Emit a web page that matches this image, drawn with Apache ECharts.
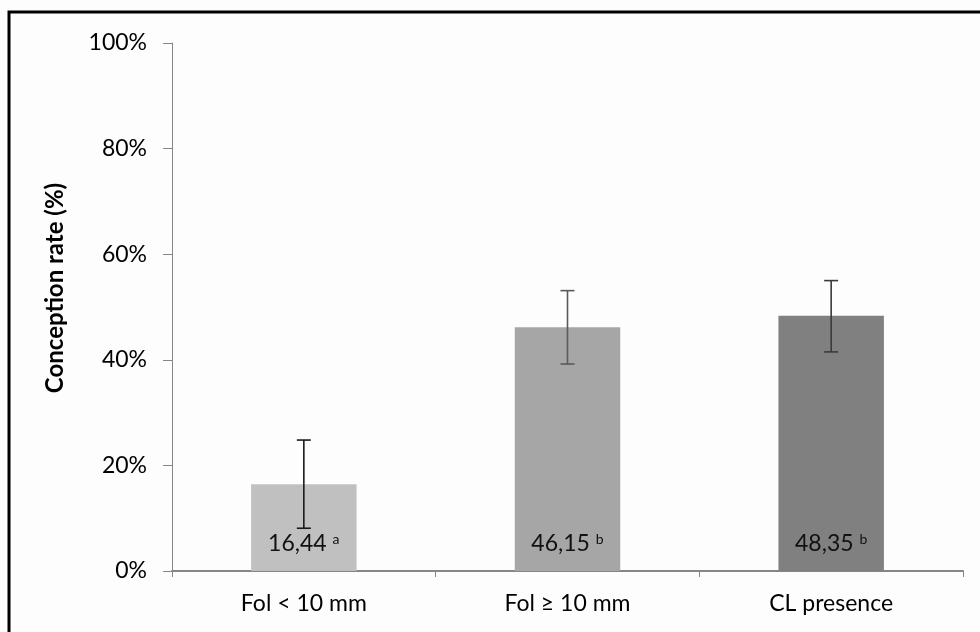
<!DOCTYPE html>
<html>
<head>
<meta charset="utf-8">
<script src="https://cdn.jsdelivr.net/npm/echarts@6/dist/echarts.min.js"></script>
<style>
  html, body { margin: 0; padding: 0; background: #fff; }
  #chart { width: 980px; height: 632px; }
</style>
</head>
<body>
<div id="chart"></div>
<script>
// data
var categories = ['Fol < 10 mm', 'Fol \u2265 10 mm', 'CL presence'];
var rates = [16.44, 46.15, 48.35];
var errLow = [8.1, 39.2, 41.5];
var errHigh = [24.8, 53.1, 55.0];
var letters = ['a', 'b', 'b'];
var yTicks = [0, 20, 40, 60, 80, 100];

var barColors = ['#c0c0c0', '#a6a6a6', '#808080'];
var errColors = ['#1a1a1a', '#5a5a5a', '#3a3a3a'];
var font = 'Lato, "Liberation Sans", sans-serif';

var chart = echarts.init(document.getElementById('chart'));

var errData = categories.map(function (c, i) {
  return [i, errLow[i], errHigh[i]];
});

chart.setOption({
  animation: false,
  backgroundColor: '#fdfdfd',
  grid: { left: 172, right: 17, top: 43, bottom: 61 },
  graphic: [
    {
      type: 'rect',
      shape: { x: 9, y: 12, width: 1000, height: 700 },
      style: { fill: 'none', stroke: '#000', lineWidth: 3 }
    },
    {
      type: 'text',
      x: 55, y: 288,
      rotation: Math.PI / 2,
      style: {
        text: 'Conception rate (%)',
        font: 'bold 24px ' + font,
        fill: '#000',
        align: 'center',
        verticalAlign: 'middle'
      }
    }
  ],
  xAxis: {
    type: 'category',
    data: categories,
    axisLine: { lineStyle: { color: '#868686', width: 2 } },
    axisTick: { show: true, length: 6, lineStyle: { color: '#868686' } },
    axisLabel: { color: '#000', fontSize: 23, fontFamily: font, margin: 21 }
  },
  yAxis: {
    type: 'value',
    min: 0,
    max: yTicks[yTicks.length - 1],
    interval: 20,
    splitLine: { show: false },
    axisLine: { show: true, lineStyle: { color: '#868686' } },
    axisTick: { show: true, length: 9, lineStyle: { color: '#868686' } },
    axisLabel: {
      color: '#000', fontSize: 23, fontFamily: font, margin: 25,
      formatter: '{value}%'
    }
  },
  series: [
    {
      type: 'bar',
      barWidth: '40%',
      data: rates.map(function (v, i) {
        return { value: v, itemStyle: { color: barColors[i] } };
      }),
      label: {
        show: true,
        position: 'insideBottom',
        distance: 15,
        formatter: function (p) {
          return String(p.value).replace('.', ',') + ' {sup|' + letters[p.dataIndex] + '}';
        },
        color: '#111',
        fontSize: 23,
        fontFamily: font,
        rich: {
          sup: { fontSize: 14, fontFamily: font, color: '#111', padding: [0, 0, 10, 0] }
        }
      },
      z: 2
    },
    {
      type: 'custom',
      data: errData,
      z: 5,
      renderItem: function (params, api) {
        var i = api.value(0);
        var lo = api.coord([i, api.value(1)]);
        var hi = api.coord([i, api.value(2)]);
        var half = 7;
        var st = { stroke: errColors[params.dataIndex], lineWidth: 1.6 };
        return {
          type: 'group',
          children: [
            { type: 'line', shape: { x1: hi[0], y1: hi[1], x2: lo[0], y2: lo[1] }, style: st },
            { type: 'line', shape: { x1: hi[0] - half, y1: hi[1], x2: hi[0] + half, y2: hi[1] }, style: st },
            { type: 'line', shape: { x1: lo[0] - half, y1: lo[1], x2: lo[0] + half, y2: lo[1] }, style: st }
          ]
        };
      }
    }
  ]
});
</script>
</body>
</html>
